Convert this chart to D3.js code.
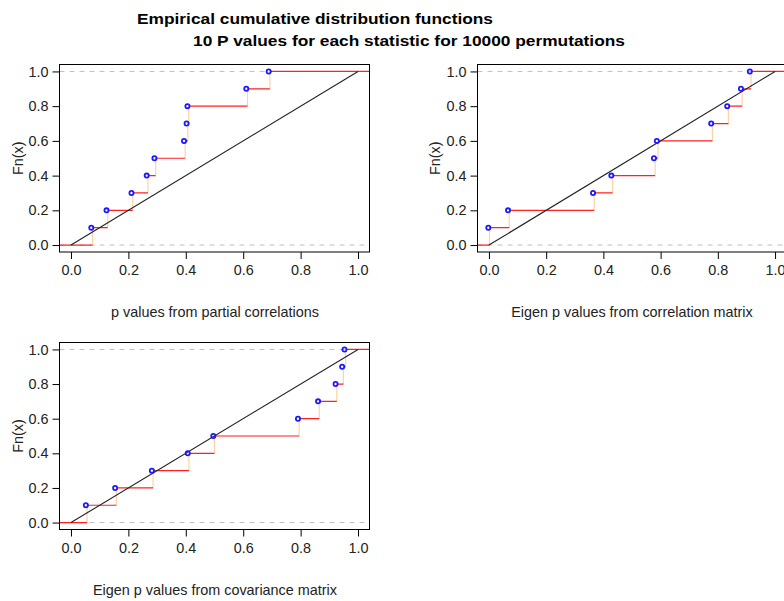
<!DOCTYPE html>
<html><head><meta charset="utf-8">
<script src="https://cdn.jsdelivr.net/npm/d3@7"></script>
<style>
body{margin:0;background:#fff;}
svg{display:block;font-family:"Liberation Sans",Arial,Helvetica,sans-serif;}
</style></head>
<body>
<svg id="c" width="784" height="601"></svg>
<script>
// ---- data ----
const titleLines = ["Empirical cumulative distribution functions", "10 P values for each statistic for 10000 permutations"];
const pPartial = [0.075, 0.128, 0.215, 0.268, 0.295, 0.398, 0.407, 0.410, 0.615, 0.693];
const pEigenCor = [0.002, 0.071, 0.368, 0.432, 0.581, 0.591, 0.781, 0.837, 0.885, 0.916];
const pEigenCov = [0.056, 0.158, 0.286, 0.411, 0.500, 0.795, 0.865, 0.926, 0.949, 0.957];
const xLabels = ["p values from partial correlations", "Eigen p values from correlation matrix", "Eigen p values from covariance matrix"];
const yLabel = "Fn(x)";
const tickValues = [0, 0.2, 0.4, 0.6, 0.8, 1.0];

const svg = d3.select("#c");
const FS = 14.4;

// title
svg.append("text").attr("x",137).attr("y",23.5).attr("font-weight","bold").attr("font-size",15.5)
  .attr("textLength",356).attr("lengthAdjust","spacingAndGlyphs").text(titleLines[0]);
svg.append("text").attr("x",193).attr("y",45.5).attr("font-weight","bold").attr("font-size",15.5)
  .attr("textLength",432).attr("lengthAdjust","spacingAndGlyphs").text(titleLines[1]);

const panels = [
  {data:pPartial, label:xLabels[0], xr:[59.5,369.5], yr:[252,64.5], ylabX:18, xlabY:317, xlabCx:215},
  {data:pEigenCor, label:xLabels[1], xr:[477.5,786.5], yr:[252,64.5], ylabX:435, xlabY:317, xlabCx:632},
  {data:pEigenCov, label:xLabels[2], xr:[59.5,369.5], yr:[529.5,342.5], ylabX:18, xlabY:595, xlabCx:215}
];

panels.forEach(p => {
  const x = d3.scaleLinear().domain([-0.04,1.04]).range(p.xr);
  const y = d3.scaleLinear().domain([-0.04,1.04]).range(p.yr);
  const g = svg.append("g");
  const clipId = "clip"+Math.round(p.xr[0])+Math.round(p.yr[0]);
  svg.append("clipPath").attr("id",clipId).append("rect")
    .attr("x",p.xr[0]).attr("y",p.yr[1]).attr("width",p.xr[1]-p.xr[0]).attr("height",p.yr[0]-p.yr[1]);
  const inner = g.append("g").attr("clip-path",`url(#${clipId})`);

  // dashed reference lines at 0 and 1
  [0,1].forEach(v => {
    inner.append("line").attr("x1",p.xr[0]).attr("x2",p.xr[1]).attr("y1",y(v)).attr("y2",y(v))
      .attr("stroke","#c0c0c0").attr("stroke-width",1).attr("stroke-dasharray","5,5");
  });

  const n = p.data.length;
  const xs = [-0.04].concat(p.data).concat([1.04]);
  // vertical jumps
  p.data.forEach((v,i) => {
    inner.append("line").attr("x1",x(v)).attr("x2",x(v)).attr("y1",y(i/n)).attr("y2",y((i+1)/n))
      .attr("stroke","#ffd2a6").attr("stroke-width",1.2);
  });
  // horizontal steps
  for (let i=0;i<=n;i++){
    inner.append("line").attr("x1",x(xs[i])).attr("x2",x(xs[i+1])).attr("y1",y(i/n)).attr("y2",y(i/n))
      .attr("stroke","#ff2020").attr("stroke-width",1.2);
  }
  // diagonal
  inner.append("line").attr("x1",x(0)).attr("y1",y(0)).attr("x2",x(1)).attr("y2",y(1))
    .attr("stroke","#222").attr("stroke-width",1.1);
  // points
  p.data.forEach((v,i) => {
    inner.append("circle").attr("cx",x(v)-1.2).attr("cy",y((i+1)/n)).attr("r",2.1)
      .attr("fill","none").attr("stroke","#1a1aff").attr("stroke-width",1.8);
  });

  // box
  g.append("rect").attr("x",p.xr[0]).attr("y",p.yr[1]).attr("width",p.xr[1]-p.xr[0]).attr("height",p.yr[0]-p.yr[1])
    .attr("fill","none").attr("stroke","#000").attr("stroke-width",1);

  // axes
  const xa = g.append("g").attr("transform",`translate(0,${p.yr[0]})`)
    .call(d3.axisBottom(x).tickValues(tickValues).tickFormat(d3.format(".1f")).tickSize(7).tickPadding(6));
  const ya = g.append("g").attr("transform",`translate(${p.xr[0]},0)`)
    .call(d3.axisLeft(y).tickValues(tickValues).tickFormat(d3.format(".1f")).tickSize(7).tickPadding(4));
  [xa,ya].forEach(a => {
    a.select(".domain").remove();
    a.selectAll("text").attr("font-size",FS).attr("fill","#222").attr("font-family","Liberation Sans, Arial, sans-serif");
    a.selectAll("line").attr("stroke","#000");
  });

  // labels
  g.append("text").attr("x",p.xlabCx).attr("y",p.xlabY).attr("text-anchor","middle").attr("font-size",FS)
    .attr("fill","#222").text(p.label);
  g.append("text").attr("transform",`translate(${p.ylabX + 5},${(p.yr[0]+p.yr[1])/2}) rotate(-90)`)
    .attr("text-anchor","middle").attr("font-size",FS).attr("fill","#222").text(yLabel);
});
</script>
</body></html>
